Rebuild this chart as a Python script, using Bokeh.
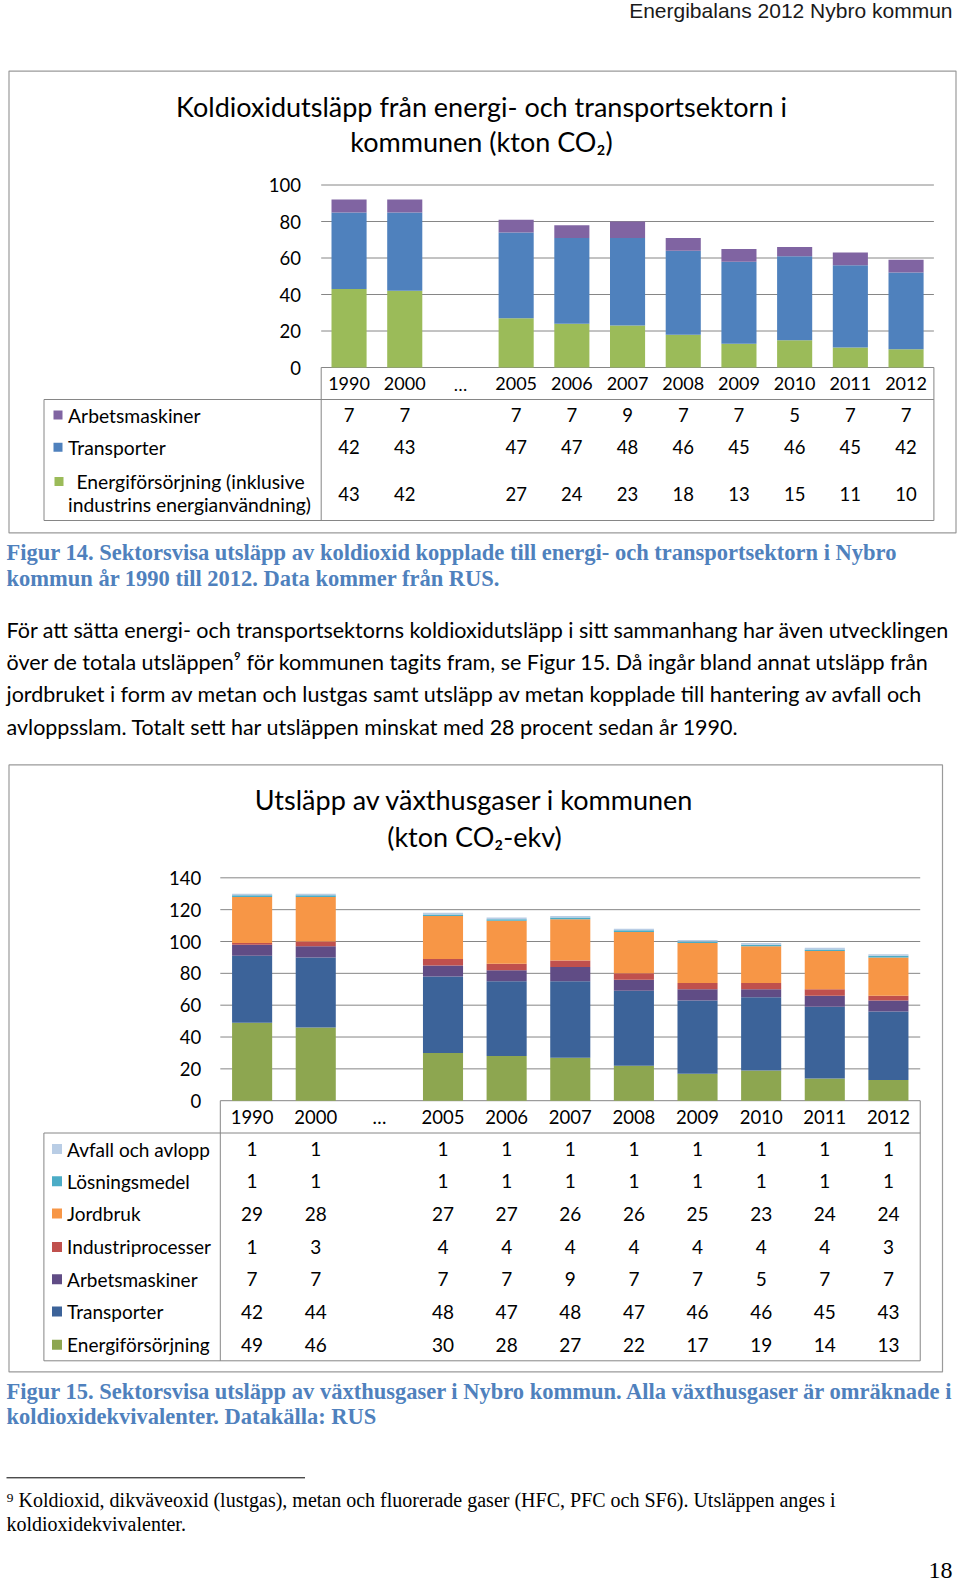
from bokeh.plotting import figure
from bokeh.models import Range1d
from bokeh.core.properties import value
from bokeh.embed import file_html
from bokeh.resources import INLINE

# ---------------- data ----------------
categories = ["1990", "2000", "…", "2005", "2006", "2007", "2008", "2009", "2010", "2011", "2012"]

# Figure 14 (kton CO2)
c1_series = ["Arbetsmaskiner", "Transporter", "Energiförsörjning (inklusive industrins energianvändning)"]
c1_arbetsmaskiner = [7, 7, None, 7, 7, 9, 7, 7, 5, 7, 7]
c1_transporter = [42, 43, None, 47, 47, 48, 46, 45, 46, 45, 42]
c1_energi = [43, 42, None, 27, 24, 23, 18, 13, 15, 11, 10]
c1_ticks = [0, 20, 40, 60, 80, 100]

# Figure 15 (kton CO2-ekv)
c2_series = ["Avfall och avlopp", "Lösningsmedel", "Jordbruk", "Industriprocesser",
             "Arbetsmaskiner", "Transporter", "Energiförsörjning"]
c2_avfall = [1, 1, None, 1, 1, 1, 1, 1, 1, 1, 1]
c2_losning = [1, 1, None, 1, 1, 1, 1, 1, 1, 1, 1]
c2_jordbruk = [29, 28, None, 27, 27, 26, 26, 25, 23, 24, 24]
c2_industri = [1, 3, None, 4, 4, 4, 4, 4, 4, 4, 3]
c2_arbetsmaskiner = [7, 7, None, 7, 7, 9, 7, 7, 5, 7, 7]
c2_transporter = [42, 44, None, 48, 47, 48, 47, 46, 46, 45, 43]
c2_energi = [49, 46, None, 30, 28, 27, 22, 17, 19, 14, 13]
c2_ticks = [0, 20, 40, 60, 80, 100, 120, 140]

# ---------------- styles ----------------
SANS = "Lato"
SERIF = "Liberation Serif"
GRID = "#868686"
BORDER = "#9a9a9a"
CAP_BLUE = "#4F81BD"

c1_colors = ["#8064A2", "#4F81BD", "#9BBB59"]          # table row order (top -> bottom)
c2_colors = ["#B9CDE5", "#4BACC6", "#F79646", "#C0504D", "#604C85", "#3C6399", "#8DA650"]

# page geometry (page pixel coordinates)
PX0, PX1, PY0, PY1 = 0, 960, 0, 1582

p = figure(width=PX1 - PX0, height=PY1 - PY0,
           x_range=Range1d(PX0, PX1), y_range=Range1d(PY1, PY0),
           x_axis_type=None, y_axis_type=None,
           output_backend="svg", toolbar_location=None, min_border=0)
p.grid.visible = False
p.outline_line_color = None
p.background_fill_color = "white"


def put(xs, ys, texts, size, font=SANS, color="black", align="left", style="normal",
        xr="default", yr="default", baseline="middle"):
    p.text(x=xs, y=ys, text=texts, text_font=value(font), text_font_size=f"{size}px",
           text_color=color, text_align=align, text_baseline=baseline,
           text_font_style=style, x_range_name=xr, y_range_name=yr)


def chart(name, left, step, zero_px, per_unit, ticks, stack_bottom_up, colors_bottom_up,
          bar_w):
    xr, yr = name + "x", name + "y"
    p.extra_x_ranges[xr] = Range1d((PX0 - left) / step, (PX1 - left) / step)
    p.extra_y_ranges[yr] = Range1d((zero_px - PY1) / per_unit, (zero_px - PY0) / per_unit)
    n = len(categories)
    p.segment(x0=[0] * len(ticks), x1=[n] * len(ticks), y0=ticks, y1=ticks,
              line_color=GRID, line_width=1, x_range_name=xr, y_range_name=yr)
    idx = [i for i in range(n) if stack_bottom_up[0][i] is not None]
    base = [0.0] * len(idx)
    for series, col in zip(stack_bottom_up, colors_bottom_up):
        vals = [series[i] for i in idx]
        top = [b + v for b, v in zip(base, vals)]
        p.vbar(x=[i + 0.5 for i in idx], width=bar_w, bottom=base, top=top,
               fill_color=col, line_color=None, x_range_name=xr, y_range_name=yr)
        base = top
    return xr, yr


# ---------------- header ----------------
put([952], [10], ["Energibalans 2012 Nybro kommun"], 21, font="Liberation Sans",
    color="#1a1a1a", align="right")

# ================= Figure 14 =================
L1, S1, Z1, K1 = 320.7, 55.7, 367.0, 1.825
R1 = L1 + S1 * len(categories)
p.quad(left=[8.5], right=[955.5], top=[70.6], bottom=[532.4], fill_color=None,
       line_color=BORDER, line_width=1.2)
put([481, 481], [106, 141],
    ["Koldioxidutsläpp från energi- och transportsektorn i", "kommunen (kton CO₂)"], 27,
    align="center")
xr1, yr1 = chart("c1", L1, S1, Z1, K1, c1_ticks,
                 [c1_energi, c1_transporter, c1_arbetsmaskiner],
                 [c1_colors[2], c1_colors[1], c1_colors[0]], 0.63)
put([300.5] * len(c1_ticks), c1_ticks, [str(t) for t in c1_ticks], 18.5, align="right", yr=yr1)
cx = [i + 0.5 for i in range(len(categories))]
put(cx, [383] * len(categories), categories, 18, align="center", xr=xr1)

# data table
T1_top, T1_bot, T1_left = 399, 520, 43.5
p.segment(x0=[L1, R1, T1_left, T1_left, T1_left], x1=[L1, R1, T1_left, R1, R1],
          y0=[Z1, Z1, T1_top, T1_top, T1_bot], y1=[T1_bot, T1_bot, T1_bot, T1_top, T1_bot],
          line_color=GRID, line_width=1)
row_y1 = [414.5, 446.7, 493]
for series, ry in zip([c1_arbetsmaskiner, c1_transporter, c1_energi], row_y1):
    ii = [i for i in range(len(categories)) if series[i] is not None]
    put([i + 0.5 for i in ii], [ry] * len(ii), [str(series[i]) for i in ii], 18.5,
        align="center", xr=xr1)
p.scatter(x=[57.5, 57.5, 58.5], y=[414.5, 446.7, 481], marker="square", size=9,
          fill_color=c1_colors, line_color=None)
put([67.6, 67.6], [414.5, 446.7], c1_series[:2], 19.3)
put([76, 67.6], [481, 504], ["Energiförsörjning (inklusive", "industrins energianvändning)"], 19.3)

# caption 14
put([6, 6], [552, 578],
    ["Figur 14. Sektorsvisa utsläpp av koldioxid kopplade till energi- och transportsektorn i Nybro",
     "kommun år 1990 till 2012. Data kommer från RUS."], 22.5, font=SERIF, color=CAP_BLUE,
    style="bold")

# paragraph
put([6] * 4, [629.2, 661.5, 693.8, 726.0],
    ["För att sätta energi- och transportsektorns koldioxidutsläpp i sitt sammanhang har även utvecklingen",
     "över de totala utsläppen⁹ för kommunen tagits fram, se Figur 15. Då ingår bland annat utsläpp från",
     "jordbruket i form av metan och lustgas samt utsläpp av metan kopplade till hantering av avfall och",
     "avloppsslam. Totalt sett har utsläppen minskat med 28 procent sedan år 1990."], 21.5)

# ================= Figure 15 =================
L2, S2, Z2, K2 = 219.8, 63.63, 1100.2, 1.592
R2 = L2 + S2 * len(categories)
p.quad(left=[8.5], right=[942], top=[764.4], bottom=[1371.4], fill_color=None,
       line_color=BORDER, line_width=1.2)
put([474, 474], [799, 836], ["Utsläpp av växthusgaser i kommunen", "(kton CO₂-ekv)"], 27,
    align="center")
c2_rows = [c2_avfall, c2_losning, c2_jordbruk, c2_industri, c2_arbetsmaskiner,
           c2_transporter, c2_energi]
xr2, yr2 = chart("c2", L2, S2, Z2, K2, c2_ticks, c2_rows[::-1], c2_colors[::-1], 0.63)
put([200.7] * len(c2_ticks), c2_ticks, [str(t) for t in c2_ticks], 18.5, align="right", yr=yr2)
put(cx, [1116.3] * len(categories), categories, 18.5, align="center", xr=xr2)

T2_top, T2_bot, T2_left = 1132.5, 1360.3, 43.4
p.segment(x0=[L2, R2, T2_left, T2_left, T2_left], x1=[L2, R2, T2_left, R2, R2],
          y0=[Z2, Z2, T2_top, T2_top, T2_bot], y1=[T2_bot, T2_bot, T2_bot, T2_top, T2_bot],
          line_color=GRID, line_width=1)
row_y2 = [1148.6, 1180.8, 1213.1, 1246.4, 1278.7, 1311.0, 1344.2]
for series, ry in zip(c2_rows, row_y2):
    ii = [i for i in range(len(categories)) if series[i] is not None]
    put([i + 0.5 for i in ii], [ry] * len(ii), [str(series[i]) for i in ii], 19,
        align="center", xr=xr2)
p.scatter(x=[56.5] * len(row_y2), y=row_y2, marker="square", size=10,
          fill_color=c2_colors, line_color=None)
put([66.6] * len(row_y2), row_y2, c2_series, 19)

# caption 15
put([6, 6], [1390.6, 1415.8],
    ["Figur 15. Sektorsvisa utsläpp av växthusgaser i Nybro kommun. Alla växthusgaser är omräknade i",
     "koldioxidekvivalenter. Datakälla: RUS"], 22.5, font=SERIF, color=CAP_BLUE, style="bold")

# footnote
p.segment(x0=[6], x1=[304.5], y0=[1477.3], y1=[1477.3], line_color="black", line_width=1)
put([6, 6], [1499.5, 1523.7],
    ["⁹ Koldioxid, dikväveoxid (lustgas), metan och fluorerade gaser (HFC, PFC och SF6). Utsläppen anges i",
     "koldioxidekvivalenter."], 20, font=SERIF)

# page number
put([952], [1570], ["18"], 24, font=SERIF, align="right")

open("out.html", "w").write(file_html(p, INLINE))
